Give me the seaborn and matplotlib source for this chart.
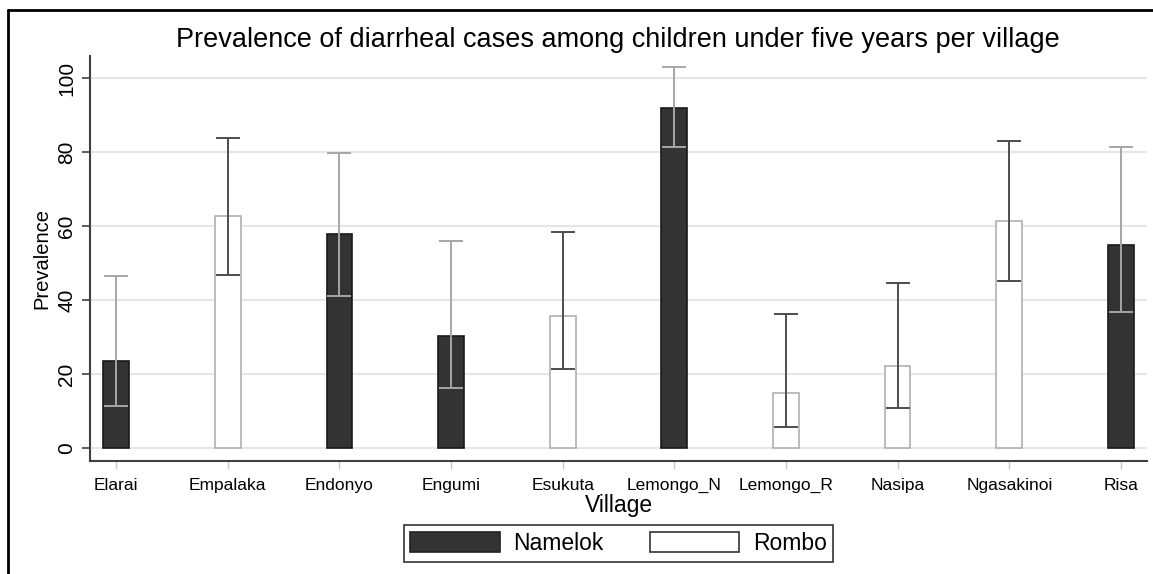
import numpy as np
import pandas as pd
import matplotlib
matplotlib.use("Agg")
import matplotlib.pyplot as plt
from matplotlib.lines import Line2D
import seaborn as sns

sns.set_theme(style="white")
plt.rcParams["font.family"] = ["Liberation Sans", "DejaVu Sans"]
plt.rcParams["text.color"] = "black"
plt.rcParams["axes.labelcolor"] = "black"
plt.rcParams["xtick.labelcolor"] = "black"
plt.rcParams["ytick.labelcolor"] = "black"

# Data
villages = ["Elarai", "Empalaka", "Endonyo", "Engumi", "Esukuta",
            "Lemongo_N", "Lemongo_R", "Nasipa", "Ngasakinoi", "Risa"]
district = ["Namelok", "Rombo", "Namelok", "Namelok", "Rombo",
            "Namelok", "Rombo", "Rombo", "Rombo", "Namelok"]
prevalence = [23.5, 62.9, 57.8, 30.4, 35.8, 91.9, 14.9, 22.3, 61.4, 55.0]
ci_low = [11.5, 46.8, 41.2, 16.2, 21.5, 81.5, 5.8, 10.8, 45.1, 36.8]
ci_high = [46.7, 83.8, 79.9, 56.1, 58.4, 102.9, 36.3, 44.8, 83.0, 81.4]

df = pd.DataFrame({"village": villages, "district": district,
                   "prevalence": prevalence, "lo": ci_low, "hi": ci_high})

palette = {"Namelok": "#333333", "Rombo": "white"}
bar_edge = {"Namelok": "#1a1a1a", "Rombo": "#b0b0b0"}
err_color = {"Namelok": "#a6a6a6", "Rombo": "#4d4d4d"}

fig = plt.figure(figsize=(11.53, 5.74), dpi=100)
ax = fig.add_axes([90 / 1153, 1 - 461 / 574, (1147 - 90) / 1153, (461 - 56) / 574])

# Grid first so bars sit on top
ax.set_axisbelow(True)
ax.yaxis.grid(True, color="#e6e6e6", linewidth=1.5)

sns.barplot(data=df, x="village", y="prevalence", hue="district", order=villages,
            hue_order=["Namelok", "Rombo"], palette=palette, dodge=False,
            width=0.23, errorbar=None, linewidth=1.2, ax=ax, legend=False)

# Fix bar edge colours per district
for patch in ax.patches:
    fc = matplotlib.colors.to_hex(patch.get_facecolor())
    patch.set_edgecolor(bar_edge["Namelok"] if fc == "#333333" else bar_edge["Rombo"])

# Error bars
pos = np.arange(len(villages))
for name in ["Namelok", "Rombo"]:
    m = df["district"].eq(name).to_numpy()
    sub = df[m]
    ax.errorbar(pos[m], sub["prevalence"],
                yerr=[sub["prevalence"] - sub["lo"], sub["hi"] - sub["prevalence"]],
                fmt="none", ecolor=err_color[name], elinewidth=1.4, capsize=8.5,
                capthick=1.4, zorder=5)

ax.set_xlim(-0.233, 9.233)
ax.set_ylim(-3.4, 106)
ax.set_yticks([0, 20, 40, 60, 80, 100])
for lab in ax.get_yticklabels():
    lab.set_rotation(90)
    lab.set_va("center")
ax.tick_params(axis="y", labelsize=15, length=6, width=1.2, color="#404040",
               direction="out", left=True, pad=4)
ax.tick_params(axis="x", labelsize=12.5, length=6, width=1, color="#c8c8c8",
               direction="out", bottom=True, pad=6)

sns.despine(ax=ax)
for s in ["left", "bottom"]:
    ax.spines[s].set_color("#404040")
    ax.spines[s].set_linewidth(1.5)

ax.set_xlabel("Village", fontsize=16.5, labelpad=1)
ax.set_ylabel("Prevalence", fontsize=14.5, labelpad=4)
fig.text(618 / 1153, 1 - 40 / 574, "Prevalence of diarrheal cases among children under five years per village",
         ha="center", va="center", fontsize=19.5)

# Legend below the plot
handles = [matplotlib.patches.Patch(facecolor="#333333", edgecolor="#222222", linewidth=1.2),
           matplotlib.patches.Patch(facecolor="white", edgecolor="#333333", linewidth=1.2)]
leg = fig.legend(handles, ["Namelok", "Rombo"], loc="center",
                 bbox_to_anchor=(618.5 / 1153, 1 - 543.5 / 574), ncol=2, fontsize=16.5,
                 frameon=True, fancybox=False, edgecolor="black", handlelength=3.9,
                 handleheight=1.0, columnspacing=2.0, borderpad=0.3, handletextpad=0.6)
leg.get_frame().set_linewidth(1.2)

# Outer frame (left and top edges visible)
fig.add_artist(Line2D([8 / 1153, 8 / 1153], [0, 1 - 10 / 574], color="black", linewidth=2,
                      transform=fig.transFigure))
fig.add_artist(Line2D([8 / 1153, 1], [1 - 10 / 574, 1 - 10 / 574], color="black", linewidth=2,
                      transform=fig.transFigure))

fig.savefig("out.png", dpi=100)
